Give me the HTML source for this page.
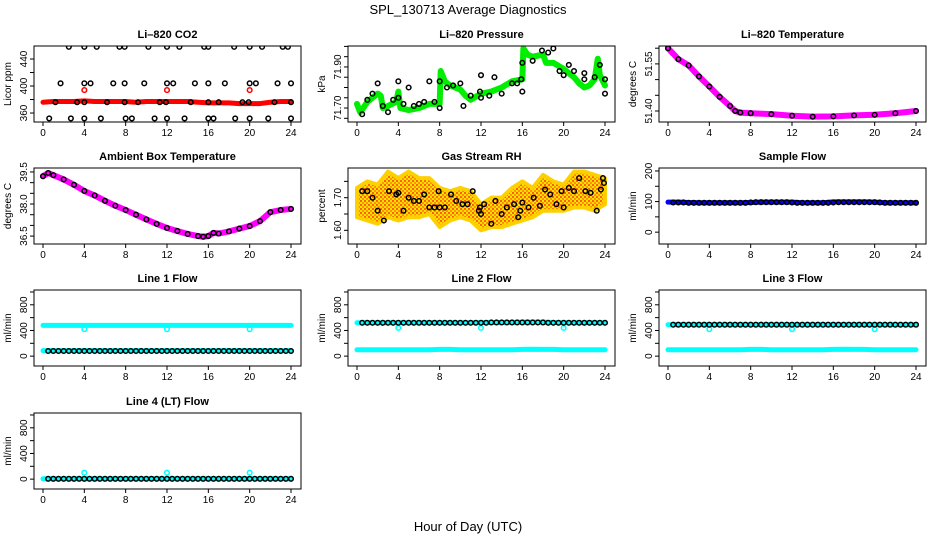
<!DOCTYPE html>
<html><head><meta charset="utf-8"><style>
html,body{margin:0;padding:0;background:#fff;}
svg{display:block;font-family:"Liberation Sans",Arial,sans-serif;}
</style></head><body>
<svg id="chart" width="936" height="540" viewBox="0 0 936 540" xmlns="http://www.w3.org/2000/svg">
<defs>
<pattern id="rhpat" width="4" height="4" patternUnits="userSpaceOnUse">
<rect width="4" height="4" fill="#ffe000"/><rect x="0" y="0" width="2" height="2" fill="#ff6000"/><rect x="2" y="2" width="2" height="2" fill="#ff9000"/>
</pattern>
</defs>
<text x="468" y="14" text-anchor="middle" font-size="13">SPL_130713  Average Diagnostics</text>
<text x="468" y="531" text-anchor="middle" font-size="13">Hour of Day (UTC)</text>
</svg>
<script>
// ---------- data ----------
const xTicks=[0,4,8,12,16,20,24];
const halfHours=[0.5,1,1.5,2,2.5,3,3.5,4,4.5,5,5.5,6,6.5,7,7.5,8,8.5,9,9.5,10,10.5,11,11.5,12,12.5,13,13.5,14,14.5,15,15.5,16,16.5,17,17.5,18,18.5,19,19.5,20,20.5,21,21.5,22,22.5,23,23.5,24];
const hours=[0,1,2,3,4,5,6,7,8,9,10,11,12,13,14,15,16,17,18,19,20,21,22,23,24];

// CO2
const co2RedT=[0,1,2,3,4,5,6,7,8,9,10,11,12,13,14,15,16,17,18,19,20,21,22,23,24];
const co2RedV=[376,377,377,377,378,377,377,377,377,376,377,377,377,377,377,376,375,375,375,374,374,374,376,377,377];
const co2OutT=[4,12,20];
const co2OutV=[394,394,394];
const co2BlkT=[2.5,4,5.2,7.4,7.9,10.2,12,13.2,15.6,16,18.5,20,21.2,23.2,23.7, 1.7,4,4.6,6.8,7.9,9.8,12,12.6,14.7,16,17.6,20,20.6,22.7,24, 0.6,2.7,4,5.6,8,8.6,10.8,12,13.7,16,16.5,18.6,20,21.8,24, 1.2,3.3,4,6.2,7.9,9.2,11.3,11.9,14.3,16,17,19.3,19.9,22.4,24];
const co2BlkV=[458,458,458,458,458,458,458,458,458,458,458,458,458,458,458, 404,404,404,404,404,404,404,404,404,404,404,404,404,404,404, 352,352,352,352,352,352,352,352,352,352,352,352,352,352,352, 376,376,376,376,376,376,376,376,376,376,376,376,376,376,376];

// Pressure
const presGrT=[0,0.3,0.6,1,1.5,2,2.3,2.5,3,3.8,4,4.2,5,6,7,8,8.1,8.5,9,10,10.5,11,12,13,14,15,16,16.1,16.5,17,18,18.3,19,20,21,21.5,22,22.5,23,23.3,23.5,24];
const presGrV=[71.72,71.68,71.70,71.73,71.75,71.77,71.76,71.70,71.71,71.73,71.78,71.70,71.69,71.70,71.72,71.72,71.88,71.83,71.81,71.79,71.76,71.74,71.77,71.78,71.80,71.83,71.84,71.99,71.96,71.95,71.96,71.92,71.92,71.89,71.85,71.82,71.80,71.81,71.84,71.94,71.86,71.81];
const presBkT=[0.5,1,1.5,2,2.5,3,3.5,4,4,4.5,5,5.5,6,6.5,7,7.5,8,8,8.7,9.3,10,10.3,11,11.9,12,12,12.8,13.3,14,15,15.5,15.9,16,16,17,17.9,18.5,19,19.6,20,20.5,21,22,22,23,23.5,24,24];
const presBkV=[71.67,71.74,71.77,71.82,71.71,71.68,71.74,71.75,71.83,71.72,71.80,71.71,71.72,71.73,71.83,71.73,71.83,71.70,71.80,71.81,71.82,71.71,71.76,71.78,71.75,71.86,71.76,71.85,71.77,71.82,71.82,71.84,71.78,71.92,71.93,71.98,71.97,71.99,71.88,71.86,71.91,71.88,71.87,71.84,71.85,71.91,71.77,71.84];

// Li-820 temperature
const ltT=[0,1,2,3,4,5,6,6.5,7,8,10,12,14,16,18,20,22,24];
const ltV=[51.600,51.565,51.545,51.510,51.478,51.445,51.416,51.400,51.395,51.393,51.390,51.385,51.382,51.383,51.386,51.388,51.393,51.400];

// Ambient box temperature
const abT=[0,0.5,1,2,3,4,5,6,7,8,9,10,11,12,13,14,15,15.5,16,16.5,17,18,19,20,21,22,23,24];
const abV=[39.30,39.45,39.35,39.15,38.90,38.61,38.40,38.15,37.92,37.72,37.50,37.28,37.07,36.88,36.74,36.60,36.50,36.47,36.50,36.65,36.62,36.72,36.85,36.97,37.20,37.62,37.72,37.77];

// Gas stream RH (envelope of dense cloud)
const rhT=[0,1,2,3,4,5,6,7,8,9,10,11,12,13,14,15,16,17,18,19,20,21,22,23,24];
const rhLo=[1.64,1.63,1.62,1.64,1.63,1.64,1.64,1.65,1.61,1.63,1.64,1.63,1.60,1.61,1.61,1.62,1.63,1.64,1.66,1.66,1.66,1.67,1.67,1.66,1.68];
const rhHi=[1.73,1.75,1.74,1.78,1.76,1.78,1.76,1.76,1.73,1.72,1.73,1.72,1.68,1.70,1.70,1.73,1.75,1.73,1.77,1.75,1.74,1.78,1.78,1.77,1.76];
const rhBkT=[0.5,1,1.5,2,2.6,3.1,3.8,4,4.5,5,5.5,6,6.5,7,7.5,7.9,8,8.5,9.1,9.6,10.2,10.7,11.2,11.8,11.9,12,12.3,13,13.4,14,14.5,15.2,15.6,15.8,16,16.6,17.1,17.7,18.2,18.7,19.3,19.8,20,20.5,21,21.5,22.1,22.6,23.2,23.6,23.8,23.9];
const rhBkV=[1.72,1.72,1.70,1.66,1.63,1.72,1.71,1.715,1.66,1.70,1.69,1.69,1.71,1.67,1.67,1.72,1.67,1.67,1.71,1.69,1.68,1.68,1.72,1.66,1.67,1.65,1.68,1.62,1.69,1.65,1.67,1.68,1.64,1.66,1.685,1.67,1.70,1.675,1.725,1.71,1.68,1.72,1.67,1.73,1.72,1.76,1.72,1.715,1.66,1.725,1.76,1.745];

// Sample flow
const sfBlue=[98,98,97,96,96,96,96,96,97,98,98,98,98,96,96,96,99,99,99,99,98,96,96,96,96];
const sfBlk=[97,97,97,96,96,96,96,96,96,96,96,96,96,96,96,97,98,98,98,98,98,98,98,97,96,96,96,96,96,96,96,97,98,98,98,98,98,98,98,98,97,96,96,96,96,96,96,96];

// Line flows
const l1High=[480,480,480,480,480,480,480,480,480,480,480,480,480,480,480,480,480,480,480,480,480,480,480,480,480];
const l1Low=[85,85,85,85,85,85,85,85,85,85,85,85,85,85,85,85,85,85,85,85,85,85,85,85,85];
const l1Blk=[80,80,80,80,80,80,80,80,80,80,80,80,80,80,80,80,80,80,80,80,80,80,80,80,80,80,80,80,80,80,80,80,80,80,80,80,80,80,80,80,80,80,80,80,80,80,80,80];
const l1OutV=[420,420,420];
const l2High=[520,520,520,520,520,520,520,520,520,520,520,520,525,525,525,525,530,530,530,525,520,520,520,520,520];
const l2Low=[100,100,100,100,100,100,100,100,105,105,100,100,100,100,100,100,105,108,105,105,100,100,100,100,100];
const l2Blk=[520,520,520,520,520,520,520,520,520,520,520,520,520,520,520,520,520,520,520,520,520,520,520,520,520,525,525,525,525,525,525,525,525,525,525,525,520,520,520,520,520,520,520,520,520,520,520,520];
const l2OutV=[440,440,440];
const l3High=[490,490,490,490,490,490,490,490,490,490,490,490,490,490,490,490,490,490,490,490,490,490,490,490,490];
const l3Low=[100,100,100,100,100,100,100,100,105,105,100,100,100,100,100,100,105,108,105,105,100,100,100,100,100];
const l3Blk=[490,490,490,490,490,490,490,490,490,490,490,490,490,490,490,490,490,490,490,490,490,490,490,490,490,490,490,490,490,490,490,490,490,490,490,490,490,490,490,490,490,490,490,490,490,490,490,490];
const l3OutV=[420,420,420];
const l4Low=[5,5,5,5,5,5,5,5,5,5,5,5,5,5,5,5,5,5,5,5,5,5,5,5,5];
const l4Blk=[5,5,5,5,5,5,5,5,5,5,5,5,5,5,5,5,5,5,5,5,5,5,5,5,5,5,5,5,5,5,5,5,5,5,5,5,5,5,5,5,5,5,5,5,5,5,5,5];
const l4OutV=[100,100,100];
const outT=[4,12,20];

// ---------- drawing ----------
const NS='http://www.w3.org/2000/svg';
const svg=document.getElementById('chart');
function mk(tag,attrs,parent){const e=document.createElementNS(NS,tag);for(const k in attrs)e.setAttribute(k,attrs[k]);(parent||svg).appendChild(e);return e;}
const colL=[34,348,659], rowT=[46,168,290,413], W=267, H=76;

function panel(slug,col,row,title,ylab,lo,hi,ticks,labels,fmt,series){
  const L=colL[col],T=rowT[row],B=T+H;
  const g=mk('g',{});
  
  
  const xs=h=>L+9+h*(248/24);
  const ys=v=>B-(v-lo)/(hi-lo)*H;
  const cid='clip-'+slug;
  const cp=mk('clipPath',{id:cid},g);mk('rect',{x:L,y:T,width:W,height:H},cp);
  const sg=mk('g',{'clip-path':'url(#'+cid+')'},g);
  
  
  series.forEach(s=>{
    if(s.kind==='band'){
      const pl=mk('polyline',{points:s.t.map((t,i)=>xs(t)+','+ys(s.v[i])).join(' '),fill:'none',stroke:s.color,'stroke-width':s.w||6,'stroke-linejoin':'round','stroke-linecap':'round'},sg);
      
      
    } else if(s.kind==='area'){
      const pts=s.t.map((t,i)=>xs(t)+','+ys(s.hi[i])).concat(s.t.slice().reverse().map((t,j)=>{const i=s.t.length-1-j;return xs(t)+','+ys(s.lo[i]);}));
      const pg=mk('polygon',{points:pts.join(' '),fill:'url(#rhpat)',stroke:'#ffd000','stroke-width':4,'stroke-linejoin':'round'},sg);
      
      
    } else {
      s.t.forEach((t,i)=>{
        const c=mk('circle',{cx:xs(t),cy:ys(s.v[i]),r:s.r||2.3,fill:'none',stroke:s.color,'stroke-width':s.sw||1.5},sg);
        
        
      });
    }
  });
  const bx=mk('rect',{x:L,y:T,width:W,height:H,fill:'none',stroke:'#000','stroke-width':1},g);
  
  
  const tt=mk('text',{x:L+W/2,y:T-8,'text-anchor':'middle','font-size':11,'font-weight':'bold'},g);
  tt.textContent=title;
  
  
  const yl=mk('text',{x:0,y:0,'text-anchor':'middle','font-size':10,transform:'translate('+(L-23)+','+(T+H/2)+') rotate(-90)'},g);
  yl.textContent=ylab;
  
  
  ticks.forEach(v=>{const y=ys(v);mk('line',{x1:L-4,x2:L,y1:y,y2:y,stroke:'#000'},g);});
  labels.forEach(v=>{const y=ys(v);const tx=mk('text',{x:0,y:0,'text-anchor':'middle','font-size':10,transform:'translate('+(L-7)+','+y+') rotate(-90)'},g);tx.textContent=fmt(v);
    
    });
  mk('line',{x1:xs(0),x2:xs(24),y1:B,y2:B,stroke:'#000'},g);
  xTicks.forEach(h=>{mk('line',{x1:xs(h),x2:xs(h),y1:B,y2:B+4,stroke:'#000'},g);
    const tx=mk('text',{x:xs(h),y:B+14,'text-anchor':'middle','font-size':10},g);tx.textContent=h;
    
    });
}
const f0=v=>String(v), f1=v=>v.toFixed(1), f2=v=>v.toFixed(2);
const flowTicks=[0,200,400,600,800,1000], flowLab=[0,400,800];

panel('co2',0,0,'Li\u2013820 CO2','Licor ppm',346.7,459.3,[360,380,400,420,440],[360,400,440],f0,[
 {kind:'band',name:'co2-red-band',color:'#ff0000',t:co2RedT,v:co2RedV,w:5},
 {kind:'pts',name:'co2-red-outlier',color:'#ff0000',t:co2OutT,v:co2OutV},
 {kind:'pts',name:'co2-black',color:'#000',t:co2BlkT,v:co2BlkV}]);
panel('pressure',1,0,'Li\u2013820 Pressure','kPa',71.632,72.002,[71.65,71.7,71.75,71.8,71.85,71.9,71.95,72.0],[71.7,71.9],f2,[
 {kind:'band',name:'pressure-green-band',color:'#00ee00',t:presGrT,v:presGrV,w:6},
 {kind:'pts',name:'pressure-black',color:'#000',t:presBkT,v:presBkV}]);
panel('li-temp',2,0,'Li\u2013820 Temperature','degrees C',51.365,51.607,[51.4,51.45,51.5,51.55,51.6],[51.4,51.55],f2,[
 {kind:'band',name:'li-temp-magenta-band',color:'#ff00ff',t:ltT,v:ltV,w:6},
 {kind:'pts',name:'li-temp-black',color:'#000',t:ltT,v:ltV}]);
panel('ambient',0,1,'Ambient Box Temperature','degrees C',36.13,39.685,[36.5,37,37.5,38,38.5,39,39.5],[36.5,38.0,39.5],f1,[
 {kind:'band',name:'ambient-magenta-band',color:'#ff00ff',t:abT,v:abV,w:6},
 {kind:'pts',name:'ambient-black',color:'#000',t:abT,v:abV}]);
panel('rh',1,1,'Gas Stream RH','percent',1.558,1.791,[1.6,1.65,1.7,1.75],[1.6,1.7],f2,[
 {kind:'area',name:'rh-cloud',t:rhT,lo:rhLo,hi:rhHi},
 {kind:'pts',name:'rh-black',color:'#000',t:rhBkT,v:rhBkV}]);
panel('sample-flow',2,1,'Sample Flow','ml/min',-38.7,209.7,[0,50,100,150,200],[0,100,200],f0,[
 {kind:'band',name:'sample-blue-band',color:'#0000ff',t:hours,v:sfBlue,w:5},
 {kind:'pts',name:'sample-black',color:'#000',t:halfHours,v:sfBlk}]);
panel('line1',0,2,'Line 1 Flow','ml/min',-153.8,1030.8,flowTicks,flowLab,f0,[
 {kind:'band',name:'line1-cyan-high',color:'#00ffff',t:hours,v:l1High,w:5},
 {kind:'band',name:'line1-cyan-low',color:'#00ffff',t:hours,v:l1Low,w:5},
 {kind:'pts',name:'line1-cyan-outlier',color:'#00ffff',t:outT,v:l1OutV},
 {kind:'pts',name:'line1-black',color:'#000',t:halfHours,v:l1Blk}]);
panel('line2',1,2,'Line 2 Flow','ml/min',-153.8,1030.8,flowTicks,flowLab,f0,[
 {kind:'band',name:'line2-cyan-high',color:'#00ffff',t:hours,v:l2High,w:5},
 {kind:'band',name:'line2-cyan-low',color:'#00ffff',t:hours,v:l2Low,w:5},
 {kind:'pts',name:'line2-cyan-outlier',color:'#00ffff',t:outT,v:l2OutV},
 {kind:'pts',name:'line2-black',color:'#000',t:halfHours,v:l2Blk}]);
panel('line3',2,2,'Line 3 Flow','ml/min',-153.8,1030.8,flowTicks,flowLab,f0,[
 {kind:'band',name:'line3-cyan-high',color:'#00ffff',t:hours,v:l3High,w:5},
 {kind:'band',name:'line3-cyan-low',color:'#00ffff',t:hours,v:l3Low,w:5},
 {kind:'pts',name:'line3-cyan-outlier',color:'#00ffff',t:outT,v:l3OutV},
 {kind:'pts',name:'line3-black',color:'#000',t:halfHours,v:l3Blk}]);
panel('line4',0,3,'Line 4 (LT) Flow','ml/min',-153.8,1030.8,flowTicks,flowLab,f0,[
 {kind:'band',name:'line4-cyan-low',color:'#00ffff',t:hours,v:l4Low,w:5},
 {kind:'pts',name:'line4-cyan-outlier',color:'#00ffff',t:outT,v:l4OutV},
 {kind:'pts',name:'line4-black',color:'#000',t:halfHours,v:l4Blk}]);
</script>
</body></html>
